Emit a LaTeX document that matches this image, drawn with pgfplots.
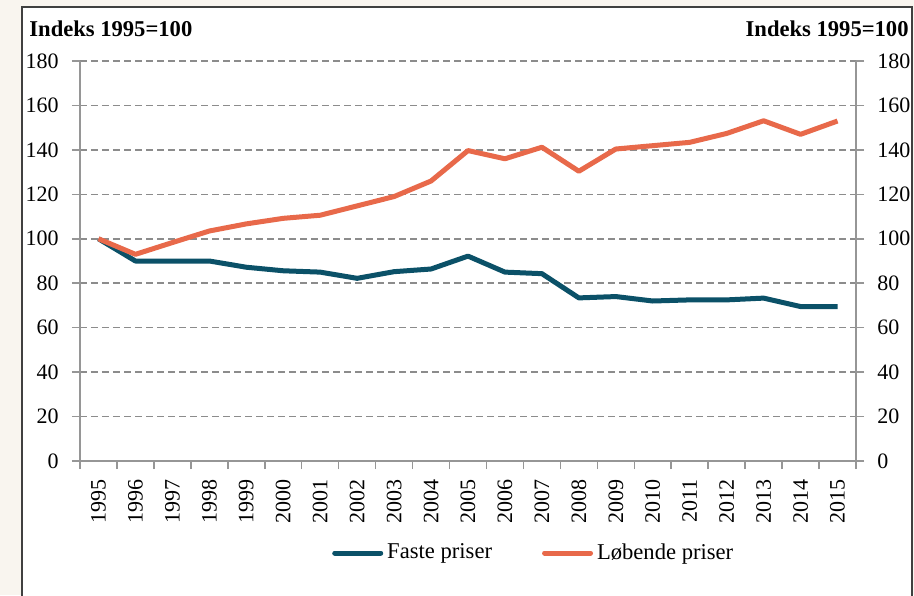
\documentclass[border=0pt]{standalone}
\usepackage{fontspec}
\setmainfont{Liberation Serif}
\usepackage{pgfplots}
\pgfplotsset{compat=1.18}
\definecolor{beige}{RGB}{249,245,239}
\definecolor{bordergray}{RGB}{64,64,64}
\definecolor{teal}{RGB}{11,81,104}
\definecolor{orng}{RGB}{232,105,74}
\definecolor{gridgray}{RGB}{140,140,140}
\definecolor{axgray}{RGB}{150,150,150}
\begin{document}
\fontsize{10.5}{12}\selectfont
\begin{tikzpicture}
\path[use as bounding box] (-40pt,-67pt) rectangle (417pt,230.5pt);
\fill[beige] (-40pt,-67pt) rectangle (417pt,230.5pt);
\filldraw[fill=white, draw=bordergray, line width=1pt] (-29pt,-75pt) rectangle (416pt,227pt);
\node[anchor=base west, font=\bfseries\fontsize{11.3}{12}\selectfont, inner sep=0pt] at (-25.5pt,212pt) {Indeks 1995=100};
\node[anchor=base east, font=\bfseries\fontsize{11.3}{12}\selectfont, inner sep=0pt] at (414.5pt,212pt) {Indeks 1995=100};
\begin{axis}[
  at={(0pt,0pt)}, anchor=south west,
  scale only axis, width=388pt, height=200pt,
  xmin=-0.5, xmax=20.5, ymin=0, ymax=180,
  ytick={0,20,...,180},
  xtick={0,...,20},
  xticklabels={1995,1996,1997,1998,1999,2000,2001,2002,2003,2004,2005,2006,2007,2008,2009,2010,2011,2012,2013,2014,2015},
  minor xtick={-0.5,0.5,...,20.5},
  major x tick style={draw=none},
  axis x line*=bottom, axis y line*=left,
  axis line style={axgray, line width=0.75pt},
  every tick/.style={axgray, line width=0.75pt},
  tick align=outside,
  major tick length=4pt, minor tick length=4pt,
  ymajorgrids,
  grid style={gridgray, line width=0.75pt, dash pattern=on 3.5pt off 2pt},
  /pgf/number format/assume math mode=true,
  x tick label style={rotate=90, anchor=east},
  xticklabel shift=1.5pt,
  yticklabel shift=3pt,
  tick label style={font=\fontsize{11}{12}\selectfont},
  legend style={at={(0.586,-0.23)}, anchor=center, draw=none, fill=none,
    legend columns=2, font=\fontsize{11.3}{12}\selectfont,
    /tikz/every even column/.append style={column sep=23pt}},
  legend image code/.code={\draw[#1, line cap=round] (0pt,0pt) -- (23pt,0pt);},
]
\addplot[teal, line width=2.5pt, line join=round] coordinates {
(0,100) (1,90) (2,90) (3,90) (4,87.2) (5,85.6) (6,85) (7,82.2) (8,85.2) (9,86.4)
(10,92.2) (11,85) (12,84.3) (13,73.4) (14,74) (15,72) (16,72.5) (17,72.5) (18,73.3) (19,69.5) (20,69.5)};
\addlegendentry{Faste priser}
\addplot[orng, line width=2.5pt, line join=round] coordinates {
(0,100) (1,93) (2,98.3) (3,103.5) (4,106.7) (5,109.2) (6,110.6) (7,114.8) (8,119) (9,126)
(10,139.7) (11,136) (12,141.2) (13,130.4) (14,140.4) (15,141.9) (16,143.4) (17,147.4) (18,153.1) (19,147) (20,153)};
\addlegendentry{Løbende priser}
\end{axis}
\begin{axis}[
  at={(0pt,0pt)}, anchor=south west,
  scale only axis, width=388pt, height=200pt,
  xmin=-0.5, xmax=20.5, ymin=0, ymax=180,
  ytick={0,20,...,180},
  axis x line=none, axis y line*=right,
  axis line style={axgray, line width=0.75pt},
  every tick/.style={axgray, line width=0.75pt},
  tick align=outside, major tick length=4pt,
  yticklabel shift=3pt,
  /pgf/number format/assume math mode=true,
  tick label style={font=\fontsize{11}{12}\selectfont},
]
\addplot[draw=none] coordinates {(0,0)};
\end{axis}
\end{tikzpicture}
\end{document}
